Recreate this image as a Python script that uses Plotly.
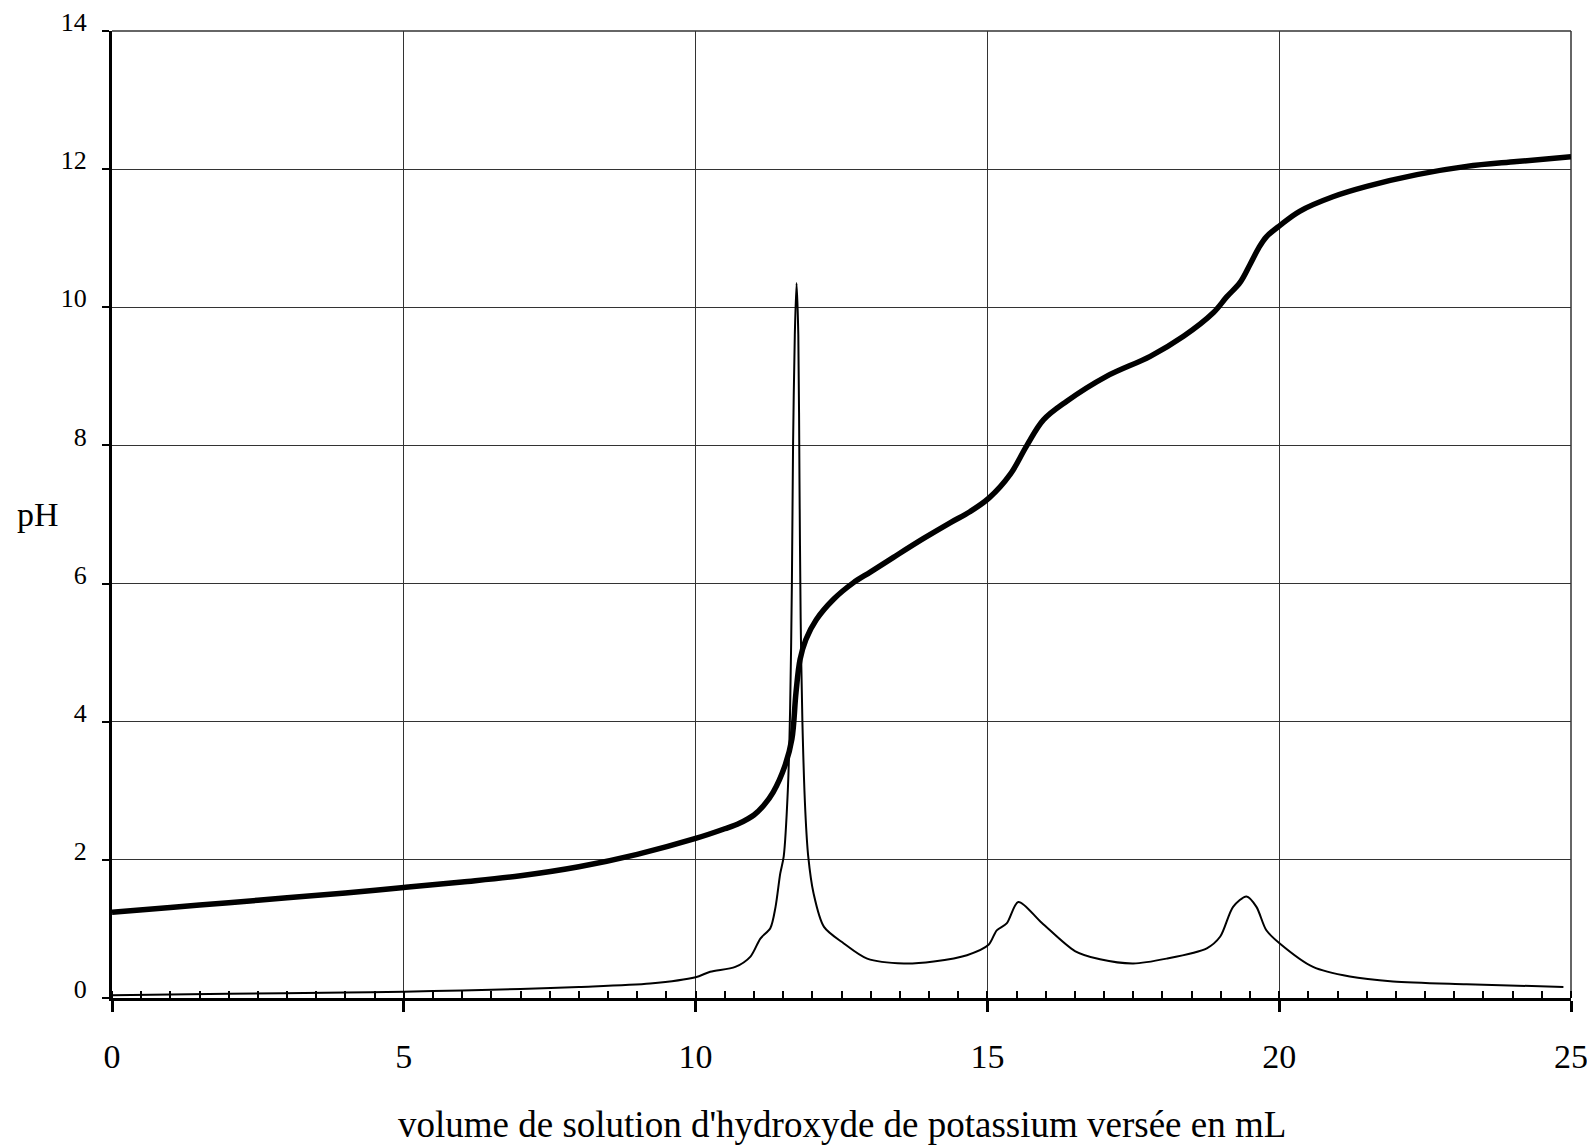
import plotly.graph_objects as go

# pH titration curve (thick line)
ph_volume = [0, 1, 2, 3, 4, 5, 6, 7, 8, 9, 10, 10.5, 10.75, 11.0, 11.17, 11.33, 11.53, 11.65,
             11.72, 11.79, 11.89, 12.07, 12.36, 12.70, 13.0, 13.39, 13.9, 14.36, 14.7, 15.03,
             15.39, 15.67, 15.96, 16.36, 17.04, 17.79, 18.36, 18.87, 19.10, 19.33, 19.50,
             19.65, 19.78, 20.02, 20.35, 20.92, 21.5, 22.36, 23.21, 24.07, 25]
ph_values = [1.24, 1.31, 1.38, 1.45, 1.52, 1.60, 1.68, 1.77, 1.90, 2.08, 2.31, 2.45, 2.53,
             2.65, 2.79, 2.98, 3.36, 3.75, 4.42, 4.90, 5.19, 5.48, 5.77, 6.01, 6.17, 6.38,
             6.65, 6.88, 7.04, 7.24, 7.58, 7.99, 8.37, 8.64, 9.00, 9.29, 9.58, 9.92, 10.15,
             10.36, 10.62, 10.86, 11.02, 11.19, 11.39, 11.60, 11.75, 11.92, 12.04, 12.11,
             12.18]

# derivative dpH/dV (thin line)
deriv_volume = [0, 2, 4, 5, 6, 7, 8, 9.22, 10, 10.25, 10.68, 10.94, 11.11, 11.28, 11.37,
                11.45, 11.51, 11.58, 11.62, 11.65, 11.67, 11.70, 11.73, 11.76, 11.78, 11.80,
                11.83, 11.88, 11.93, 12.02, 12.20, 12.54, 12.94, 13.57, 14.08, 14.65, 15.02,
                15.16, 15.33, 15.53, 15.93, 16.50, 16.93, 17.50, 18.07, 18.76, 18.99, 19.21,
                19.44, 19.61, 19.78, 20.01, 20.58, 21.21, 21.95, 23.21, 24.87]
deriv_values = [0.04, 0.06, 0.08, 0.09, 0.11, 0.13, 0.16, 0.21, 0.30, 0.38, 0.45, 0.60, 0.86,
                1.01, 1.32, 1.80, 2.05, 3.0, 4.2, 6.0, 8.0, 9.6, 10.35, 9.6, 7.5, 5.5, 4.0,
                2.7, 2.05, 1.52, 1.03, 0.79, 0.57, 0.50, 0.53, 0.62, 0.77, 0.98, 1.08, 1.39,
                1.09, 0.68, 0.56, 0.50, 0.57, 0.72, 0.89, 1.32, 1.47, 1.32, 0.98, 0.79, 0.45,
                0.31, 0.24, 0.20, 0.16]

x_ticks = [0, 5, 10, 15, 20, 25]
y_ticks = [0, 2, 4, 6, 8, 10, 12, 14]
x_title = "volume de solution d'hydroxyde de potassium versée en mL"
y_title = "pH"

FONT = "Liberation Serif, Times New Roman, serif"

fig = go.Figure()
fig.add_trace(go.Scatter(x=deriv_volume, y=deriv_values, mode="lines",
                         line=dict(color="black", width=2, shape="spline", smoothing=0.8),
                         showlegend=False, hoverinfo="skip"))
fig.add_trace(go.Scatter(x=ph_volume, y=ph_values, mode="lines",
                         line=dict(color="black", width=5.5, shape="spline", smoothing=1.0),
                         showlegend=False, hoverinfo="skip"))

# page body has an 8px default margin, so the figure is slightly smaller than the window
fig.update_layout(
    width=1587, height=1139,
    margin=dict(l=104, r=24, t=23, b=149, autoexpand=False),
    paper_bgcolor="white", plot_bgcolor="white",
    font=dict(family=FONT, color="black"),
    xaxis=dict(range=[0, 25], tickvals=x_ticks, ticktext=[str(v) for v in x_ticks],
               automargin=False,
               showgrid=True, gridcolor="#333", gridwidth=1,
               zeroline=False, showline=True, linecolor="black", linewidth=3,
               ticks="outside", ticklen=11, tickwidth=2.5, tickcolor="black",
               ticklabelstandoff=15,
               tickfont=dict(family=FONT, size=34, color="black"),
               minor=dict(ticks="inside", dtick=0.5, tick0=0, ticklen=7, tickwidth=2,
                          tickcolor="black", showgrid=False)),
    yaxis=dict(range=[0, 14], tickvals=y_ticks, ticktext=[str(v) for v in y_ticks],
               automargin=False,
               showgrid=True, gridcolor="#333", gridwidth=1,
               zeroline=False, showline=True, linecolor="black", linewidth=3,
               ticks="outside", ticklen=7, tickwidth=2, tickcolor="black",
               ticklabelstandoff=10, ticklabelshift=-9,
               tickfont=dict(family=FONT, size=26, color="black")),
    shapes=[
        dict(type="line", xref="paper", yref="paper", x0=0, x1=1, y0=1, y1=1,
             line=dict(color="#333", width=1.5), layer="below"),
        dict(type="line", xref="paper", yref="paper", x0=1, x1=1, y0=0, y1=1,
             line=dict(color="#333", width=1.5), layer="below"),
    ],
    annotations=[
        dict(text=x_title, xref="paper", yref="paper", x=0.5, y=-0.131,
             xanchor="center", yanchor="middle", showarrow=False,
             font=dict(family=FONT, size=37, color="black")),
        dict(text=y_title, xref="paper", yref="paper", x=-0.0507, y=0.5,
             xanchor="center", yanchor="middle", showarrow=False,
             font=dict(family=FONT, size=34, color="black")),
    ],
)

fig.write_html("out.html")
